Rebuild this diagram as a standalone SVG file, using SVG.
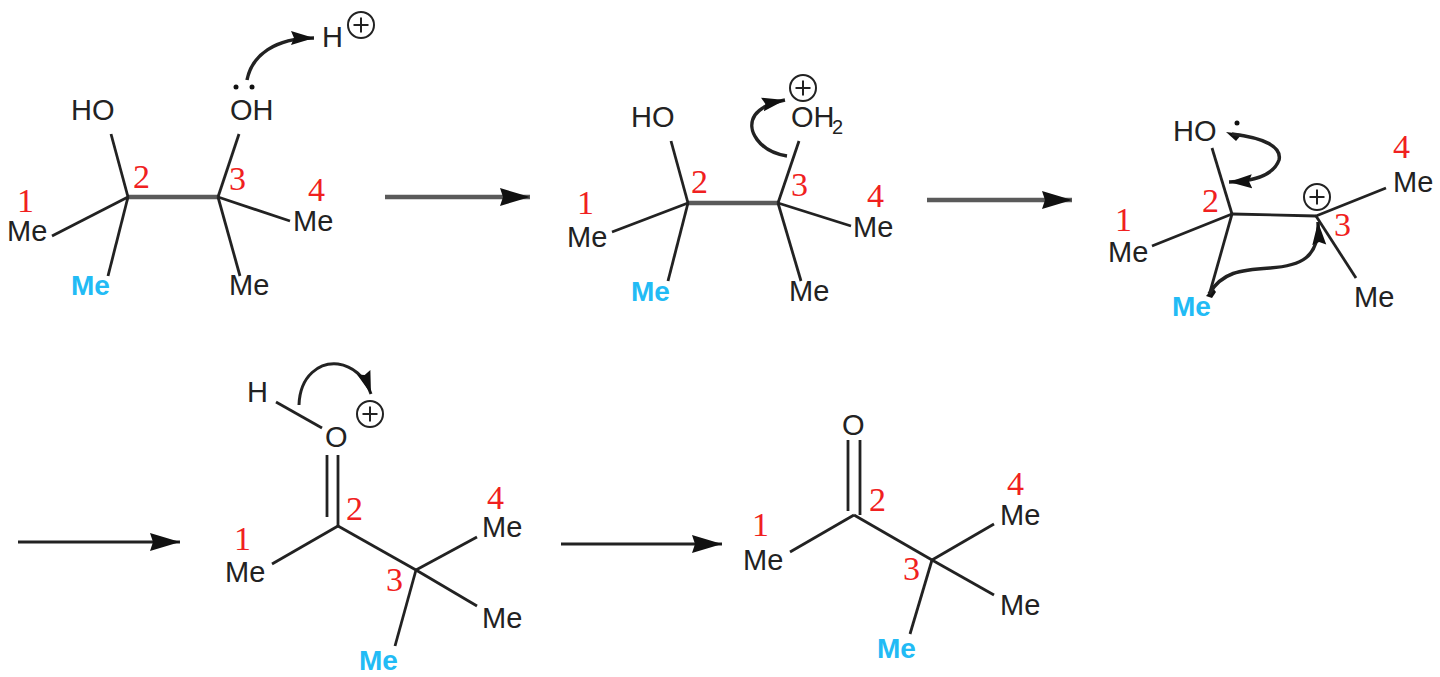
<svg xmlns="http://www.w3.org/2000/svg" width="1440" height="677" viewBox="0 0 1440 677">
<style>
text{font-family:"Liberation Sans",Arial,sans-serif;font-size:29px;fill:#222}
.n{font-family:"Liberation Serif","Times New Roman",serif;font-size:34px;fill:#f02020}
.b{fill:#22bbf5;font-weight:bold;font-size:28px}
.s{font-size:20px}
line,.l{stroke:#222;stroke-width:2.800;fill:none}
.f{stroke:#5a5a5a;stroke-width:4.500}
.c{stroke:#222;stroke-width:3.500;fill:none}
.p circle{fill:none;stroke:#222;stroke-width:2}
.p line{stroke-width:2}
</style>
<defs>
<marker id="a" markerUnits="userSpaceOnUse" markerWidth="34" markerHeight="24" refX="30" refY="12" orient="auto"><path d="M0 3L30 12L0 21L3 12Z" fill="#111"/></marker>
<marker id="h" markerUnits="userSpaceOnUse" markerWidth="26" markerHeight="20" refX="23" refY="10" orient="auto"><path d="M0 3L23 10L0 17L3 10Z" fill="#111"/></marker>
<g id="plus" class="p"><circle r="13"/><line x1="-7.500" x2="7.500"/><line y1="-7.500" y2="7.500"/></g>
</defs>
<g id="connectors">
<line class="f" x1="385" y1="197" x2="530" y2="197" marker-end="url(#a)"/>
<line class="f" x1="927" y1="200" x2="1072" y2="200" marker-end="url(#a)"/>
<line x1="18" y1="542" x2="180" y2="542" marker-end="url(#a)"/>
<line x1="561" y1="544" x2="722" y2="544" marker-end="url(#a)"/>
</g>
<g id="molecule-1">
<line class="f" x1="128" y1="197" x2="218" y2="197"/>
<line x1="111" y1="134" x2="128" y2="197"/><line x1="128" y1="197" x2="52" y2="236"/><line x1="128" y1="197" x2="108" y2="276"/>
<line x1="239" y1="134" x2="218" y2="197"/><line x1="218" y1="197" x2="290" y2="221"/><line x1="218" y1="197" x2="240" y2="276"/>
<text x="71" y="120">HO</text><text x="230" y="120">OH</text><text x="7" y="241">Me</text><text x="293" y="231">Me</text><text x="229" y="295">Me</text><text class="b" x="71" y="295">Me</text><text x="322" y="47">H</text>
<use href="#plus" transform="translate(361,25)"/>
<circle cx="236" cy="87" r="2.500" fill="#111"/><circle cx="252" cy="87" r="2.500" fill="#111"/>
<path class="c" d="M247 80C252 55 275 38 314 38" marker-end="url(#h)"/>
<text class="n" x="17" y="212">1</text><text class="n" x="133" y="188">2</text><text class="n" x="229" y="190">3</text><text class="n" x="308" y="201">4</text>
</g>
<g id="molecule-2">
<line class="f" x1="688" y1="203" x2="778" y2="203"/>
<line x1="671" y1="141" x2="688" y2="203"/><line x1="688" y1="203" x2="612" y2="232"/><line x1="688" y1="203" x2="668" y2="281"/>
<line x1="799" y1="141" x2="778" y2="203"/><line x1="778" y1="203" x2="851" y2="226"/><line x1="778" y1="203" x2="801" y2="281"/>
<text x="631" y="127">HO</text><text x="791" y="127">OH</text><text class="s" x="832" y="134">2</text><text x="567" y="247">Me</text><text x="853" y="237">Me</text><text x="789" y="301">Me</text><text class="b" x="631" y="301">Me</text>
<use href="#plus" transform="translate(803,88)"/>
<path class="c" d="M787 156C760 152 745 130 755 115C760 108 770 103 785 100" marker-end="url(#h)"/>
<text class="n" x="577" y="214">1</text><text class="n" x="691" y="193">2</text><text class="n" x="791" y="196">3</text><text class="n" x="867" y="207">4</text>
</g>
<g id="molecule-3">
<line x1="1212" y1="148" x2="1232" y2="214"/><line x1="1232" y1="214" x2="1316" y2="216"/><line x1="1232" y1="214" x2="1152" y2="246"/><line x1="1232" y1="214" x2="1210" y2="292"/>
<line x1="1316" y1="216" x2="1386" y2="188"/><line x1="1316" y1="216" x2="1356" y2="278"/>
<text x="1173" y="141">HO</text><text x="1393" y="192">Me</text><text x="1108" y="262">Me</text><text x="1354" y="307">Me</text><text class="b" x="1172" y="316">Me</text>
<circle cx="1237" cy="123" r="2.500" fill="#111"/>
<path d="M1226 132L1242 134L1236 141Z" fill="#111"/>
<path class="c" d="M1232 134C1265 138 1282 147 1279 160C1274 174 1258 181 1229 182" marker-end="url(#h)"/>
<path d="M1206 296L1213 288L1216 292L1212 298Z" fill="#111"/>
<path class="c" d="M1209 294C1222 272 1240 270 1270 268C1300 266 1320 258 1318 222" marker-end="url(#h)"/>
<use href="#plus" transform="translate(1317,197)"/>
<text class="n" x="1115" y="231">1</text><text class="n" x="1202" y="212">2</text><text class="n" x="1334" y="236">3</text><text class="n" x="1393" y="158">4</text>
</g>
<g id="molecule-4">
<line x1="276" y1="402" x2="322" y2="428"/>
<line x1="327" y1="455" x2="327" y2="517"/><line x1="338" y1="455" x2="338" y2="526"/>
<line x1="338" y1="526" x2="272" y2="564"/><line x1="338" y1="526" x2="416" y2="570"/><line x1="416" y1="570" x2="477" y2="537"/><line x1="416" y1="570" x2="477" y2="606"/><line x1="416" y1="570" x2="395" y2="646"/>
<text x="247" y="402">H</text><text x="325" y="447">O</text><text x="225" y="582">Me</text><text x="482" y="537">Me</text><text x="482" y="628">Me</text><text class="b" x="359" y="670">Me</text>
<use href="#plus" transform="translate(370,414)"/>
<path class="c" style="stroke-width:3" d="M299 405C300 375 320 362 338 364C352 366 365 376 371 394" marker-end="url(#h)"/>
<text class="n" x="234" y="550">1</text><text class="n" x="346" y="520">2</text><text class="n" x="386" y="591">3</text><text class="n" x="487" y="509">4</text>
</g>
<g id="molecule-5">
<line x1="848" y1="440" x2="848" y2="511"/><line x1="860" y1="440" x2="860" y2="515"/>
<line x1="854" y1="515" x2="790" y2="552"/><line x1="854" y1="515" x2="932" y2="560"/><line x1="932" y1="560" x2="994" y2="524"/><line x1="932" y1="560" x2="994" y2="595"/><line x1="932" y1="560" x2="910" y2="634"/>
<text x="842" y="435">O</text><text x="743" y="570">Me</text><text x="1000" y="525">Me</text><text x="1000" y="615">Me</text><text class="b" x="877" y="658">Me</text>
<text class="n" x="752" y="536">1</text><text class="n" x="869" y="511">2</text><text class="n" x="903" y="580">3</text><text class="n" x="1007" y="495">4</text>
</g>
</svg>
